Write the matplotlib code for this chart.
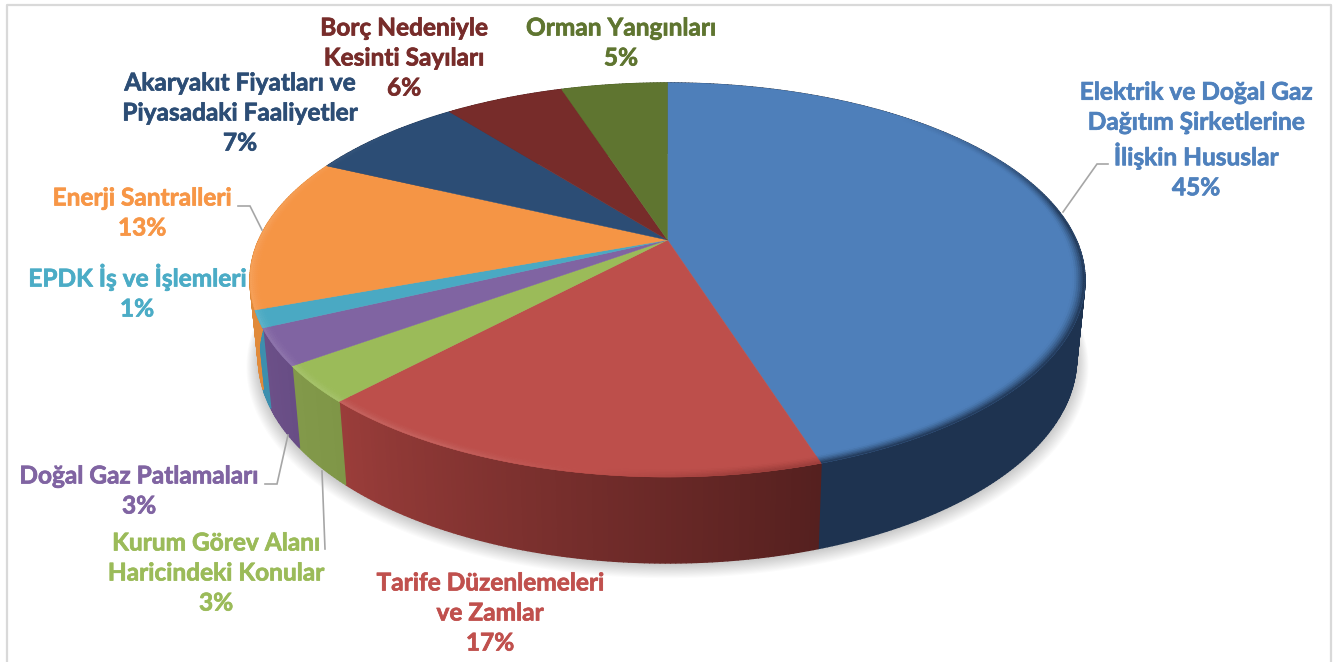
import numpy as np
import matplotlib
matplotlib.use('Agg')
import matplotlib.pyplot as plt
import matplotlib.patheffects as pe
from matplotlib.collections import PolyCollection
from matplotlib.colors import to_rgb

# ------------------------------------------------------------------ data
labels = ['Elektrik ve Doğal Gaz\nDağıtım Şirketlerine\nİlişkin Hususlar',
          'Tarife Düzenlemeleri\nve Zamlar',
          'Kurum Görev Alanı\nHaricindeki Konular',
          'Doğal Gaz Patlamaları',
          'EPDK İş ve İşlemleri',
          'Enerji Santralleri',
          'Akaryakıt Fiyatları ve\nPiyasadaki Faaliyetler',
          'Borç Nedeniyle\nKesinti Sayıları',
          'Orman Yangınları']
# slice sizes, the labels show them rounded
values = [45.1, 16.9, 3, 3, 1.4, 12.6, 7.4, 5.6, 5]

# ------------------------------------------------------------------ style
top_colors = ['#4e7fba', '#bd4f4b', '#9bbb59', '#8064a2', '#4aa9c3',
              '#f59545', '#2c4d75', '#772c2a', '#5f7530']
text_colors = ['#4f81bd', '#c0504d', '#9bbb59', '#8064a2', '#4bacc6',
               '#f79646', '#2c4d75', '#772c2a', '#5f7530']
wall_start = ['#1e3350', '#9a3d3a', '#82994a', '#6c5088', '#3d8fae',
              '#e08a3a', '#1e3350', '#551f1e', '#44541f']
wall_end = ['#1e3350', '#55201f', '#7f9647', '#684d85', '#3d8fae',
            '#e08a3a', '#1e3350', '#551f1e', '#44541f']
text_pos = [(1196, 140), (490, 613), (216, 573), (139, 491), (137, 292),
            (142, 213), (240, 113), (404, 58), (621, 43)]
leaders = [[(1063, 212), (1097, 164), (1108, 164)],
           [(238, 206), (250, 206), (262, 230)],
           [(265, 484), (277, 484), (288, 435)],
           [(322, 471), (325, 549)]]

plt.rcParams['font.family'] = ['Lato', 'DejaVu Sans']

CX, CY = 667.5, 240     # pie apex on the page
BX, BY = 408.8, 188.9   # projection scales
K = 0.203               # perspective
DROP = 76.5             # bottom face offset
SX, SY = 0.98, 1.04     # bottom face scale


def project(theta, r=1.0, drop=0, sx=1.0, sy=1.0):
    # theta in radians, clockwise from the far side of the disc
    u = r * np.sin(theta)
    v = r * np.cos(theta)
    w = 1 + K * v
    return CX + sx * BX * u / w, CY + drop + sy * BY * (-v) / w


def mix(a, b, t):
    return tuple((1 - t) * np.array(to_rgb(a)) + t * np.array(to_rgb(b)))


fig = plt.figure(figsize=(13.41, 6.62), dpi=100)
ax = fig.add_axes([0, 0, 1, 1])
ax.set_xlim(0, 1341)
ax.set_ylim(662, 0)
ax.axis('off')

# frame
ax.plot([7, 7, 1331, 1331], [662, 5, 5, 662], color='#d9d9d9', lw=1.6)

# soft shadow under the pie
t = np.linspace(0, 2 * np.pi, 361)
for i in range(14):
    sx_, sy_ = project(t, drop=DROP + 1 + i * 0.5, sx=SX + 0.0022 * i, sy=SY + 0.0025 * i)
    ax.fill(sx_, sy_, color='black', alpha=0.016, lw=0, zorder=1)

# slice limits
edges = np.cumsum([0] + values) / sum(values) * 2 * np.pi

# ------------------------------------------------------------------ walls
for i in range(len(values)):
    th = np.linspace(edges[i], edges[i + 1], int(values[i] * 6) + 2)
    x0, y0 = project(th)
    x1, y1 = project(th, drop=DROP, sx=SX, sy=SY)
    quads = []
    cols = []
    for j in range(len(th) - 1):
        quads.append([(x0[j], y0[j]), (x0[j + 1], y0[j + 1]),
                      (x1[j + 1], y1[j + 1]), (x1[j], y1[j])])
        cols.append(mix(wall_end[i], wall_start[i], j / max(len(th) - 2, 1)))
    ax.add_collection(PolyCollection(quads, facecolors=cols, edgecolors=cols,
                                     linewidths=1.0, zorder=2))

# ------------------------------------------------------------------ top
for i in range(len(values)):
    th = np.linspace(edges[i], edges[i + 1], int(values[i] * 6) + 2)
    x0, y0 = project(th)
    ax.fill(np.r_[CX, x0], np.r_[CY, y0], color=top_colors[i], lw=0.3, zorder=3)

    # bevel along the rim, light on the left and dark on the right
    radii = np.linspace(0.972, 1.0, 7)
    quads = []
    cols = []
    for k in range(len(radii) - 1):
        xa, ya = project(th, r=radii[k])
        xb, yb = project(th, r=radii[k + 1])
        depth = (k + 0.5) / (len(radii) - 1)
        for j in range(len(th) - 1):
            mid = 0.5 * (th[j] + th[j + 1])
            fade = np.clip((0.75 - np.cos(mid)) / 0.6, 0, 1)
            dark = np.clip((np.sin(mid) + 0.15) / 0.3, 0, 1)
            light = np.clip((-np.sin(mid) - 0.15) / 0.3, 0, 1)
            c = mix(top_colors[i], '#ffffff', depth ** 2 * 0.12 * fade * light)
            c = mix(c, wall_start[i], fade * dark * depth ** 1.5)
            quads.append([(xa[j], ya[j]), (xa[j + 1], ya[j + 1]),
                          (xb[j + 1], yb[j + 1]), (xb[j], yb[j])])
            cols.append(c)
    ax.add_collection(PolyCollection(quads, facecolors=cols, edgecolors=cols,
                                     linewidths=0.3, zorder=4))

# ------------------------------------------------------------------ labels
for pts in leaders:
    ax.plot([p[0] for p in pts], [p[1] for p in pts], color='#a6a6a6', lw=1.2,
            zorder=5, solid_joinstyle='miter')

for i in range(len(values)):
    ax.text(text_pos[i][0], text_pos[i][1], '%s\n%.0f%%' % (labels[i], values[i]),
            color=text_colors[i], fontsize=17.6, fontweight='bold', ha='center',
            va='center', linespacing=1.37, zorder=6,
            path_effects=[pe.withStroke(linewidth=0.5, foreground=text_colors[i])])

fig.savefig('out.png', dpi=100)
